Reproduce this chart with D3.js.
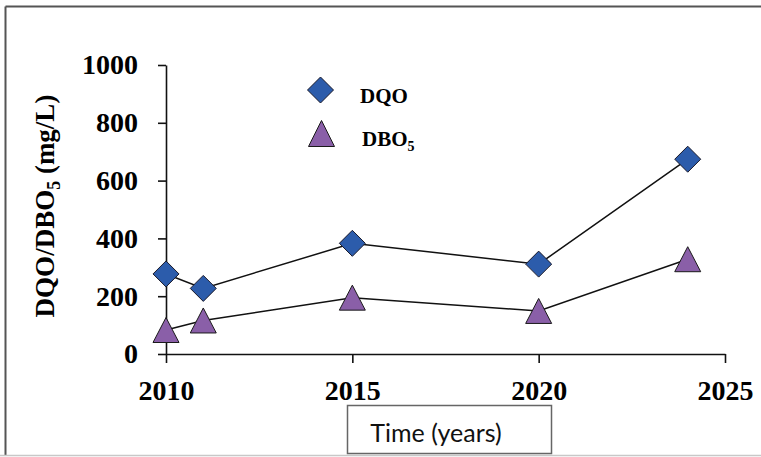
<!DOCTYPE html>
<html>
<head>
<meta charset="utf-8">
<script src="https://cdn.jsdelivr.net/npm/d3@7"></script>
<style>
  html, body { margin: 0; padding: 0; background: #fff; }
  svg { display: block; }
</style>
</head>
<body>
<svg id="chart" width="761" height="457"></svg>
<script>
const years = [2010, 2011, 2015, 2020, 2024];
const dqo = [277, 227, 383, 311, 674];
const dbo5 = [83, 116, 195, 149, 328];
const yTicks = [0, 200, 400, 600, 800, 1000];
const xTicks = [2010, 2015, 2020, 2025];
const seriesNames = ["DQO", "DBO"];
const xTitle = "Time (years)";

const svg = d3.select("#chart");
const serif = "'Liberation Serif', 'Times New Roman', serif";

// outer frame
svg.append("line").attr("x1", 5.5).attr("y1", 6.5).attr("x2", 761).attr("y2", 6.5)
  .attr("stroke", "#555").attr("stroke-width", 2);
svg.append("line").attr("x1", 5.5).attr("y1", 6.5).attr("x2", 5.5).attr("y2", 456)
  .attr("stroke", "#555").attr("stroke-width", 2);
svg.append("line").attr("x1", 0).attr("y1", 455.5).attr("x2", 761).attr("y2", 455.5)
  .attr("stroke", "#c8c8c8").attr("stroke-width", 1.5);

const x = d3.scaleLinear().domain([2010, 2025]).range([166, 725]);
const y = d3.scaleLinear().domain([0, 1000]).range([354, 65]);

// Y axis
const gy = svg.append("g").attr("transform", `translate(${x(2010)},0)`)
  .call(d3.axisLeft(y).tickValues(yTicks).tickSize(8).tickSizeOuter(0).tickPadding(20).tickFormat(d3.format("d")));
gy.select(".domain").attr("stroke", "#111").attr("stroke-width", 1.6);
gy.selectAll(".tick line").attr("stroke", "#111").attr("stroke-width", 1.6);
gy.selectAll(".tick text").attr("font-family", serif).attr("font-weight", "bold")
  .attr("font-size", 28).attr("fill", "#000").attr("dy", "0.32em");

// X axis
const gx = svg.append("g").attr("transform", `translate(0,${y(0)})`)
  .call(d3.axisBottom(x).tickValues(xTicks).tickSize(9).tickSizeOuter(0).tickFormat(d3.format("d")));
gx.select(".domain").attr("stroke", "#111").attr("stroke-width", 1.6);
gx.selectAll(".tick line").attr("stroke", "#111").attr("stroke-width", 1.6);
gx.selectAll(".tick text").attr("font-family", serif).attr("font-weight", "bold")
  .attr("font-size", 28).attr("fill", "#000").attr("y", 46).attr("dy", 0);

// Y title
const yt = svg.append("text").attr("transform", "translate(54,206) rotate(-90)")
  .attr("text-anchor", "middle").attr("font-family", serif).attr("font-weight", "bold")
  .attr("font-size", 27).attr("fill", "#000");
yt.append("tspan").text("DQO/DBO");
yt.append("tspan").attr("font-size", 18).attr("dy", 6).text("5");
yt.append("tspan").attr("dy", -6).text(" (mg/L)");

// X title box
svg.append("rect").attr("x", 347.5).attr("y", 405.5).attr("width", 204).attr("height", 48)
  .attr("fill", "#fff").attr("stroke", "#666").attr("stroke-width", 1.5);
svg.append("text").attr("x", 436).attr("y", 442).attr("text-anchor", "middle")
  .attr("font-family", "Lato, 'Liberation Sans', sans-serif").attr("font-size", 25)
  .attr("fill", "#111").text(xTitle);

const blue = "#2C5CAB", purple = "#8A5FA8";
const diamond = (cx, cy, r) => `M${cx},${cy - r}L${cx + r},${cy}L${cx},${cy + r}L${cx - r},${cy}Z`;
const tri = (cx, cy, hw, hh) => `M${cx},${cy - hh}L${cx + hw},${cy + hh}L${cx - hw},${cy + hh}Z`;

const line = d3.line().x(d => x(d[0])).y(d => y(d[1]));
const dqoPts = years.map((yr, i) => [yr, dqo[i]]);
const dboPts = years.map((yr, i) => [yr, dbo5[i]]);

svg.append("path").datum(dqoPts).attr("d", line).attr("fill", "none").attr("stroke", "#111").attr("stroke-width", 1.5);
svg.append("path").datum(dboPts).attr("d", line).attr("fill", "none").attr("stroke", "#111").attr("stroke-width", 1.5);

svg.selectAll(".dqo").data(dqoPts).enter().append("path").attr("class", "dqo")
  .attr("d", d => diamond(x(d[0]), y(d[1]), 13))
  .attr("fill", blue).attr("stroke", "#1a1a2a").attr("stroke-width", 1);
svg.selectAll(".dbo").data(dboPts).enter().append("path").attr("class", "dbo")
  .attr("d", d => tri(x(d[0]), y(d[1]), 13, 12.5))
  .attr("fill", purple).attr("stroke", "#1a1a1a").attr("stroke-width", 1);

// Legend
svg.append("path").attr("d", diamond(320.5, 90, 13)).attr("fill", blue).attr("stroke", "#1a1a2a").attr("stroke-width", 1);
svg.append("path").attr("d", tri(321.5, 133.5, 13, 13)).attr("fill", purple).attr("stroke", "#1a1a1a").attr("stroke-width", 1);
svg.append("text").attr("x", 360).attr("y", 103).attr("font-family", serif).attr("font-weight", "bold")
  .attr("font-size", 21).attr("fill", "#000").text(seriesNames[0]);
const lt = svg.append("text").attr("x", 362).attr("y", 146).attr("font-family", serif).attr("font-weight", "bold")
  .attr("font-size", 21).attr("fill", "#000");
lt.append("tspan").text(seriesNames[1]);
lt.append("tspan").attr("font-size", 14).attr("dy", 5).text("5");
</script>
</body>
</html>
